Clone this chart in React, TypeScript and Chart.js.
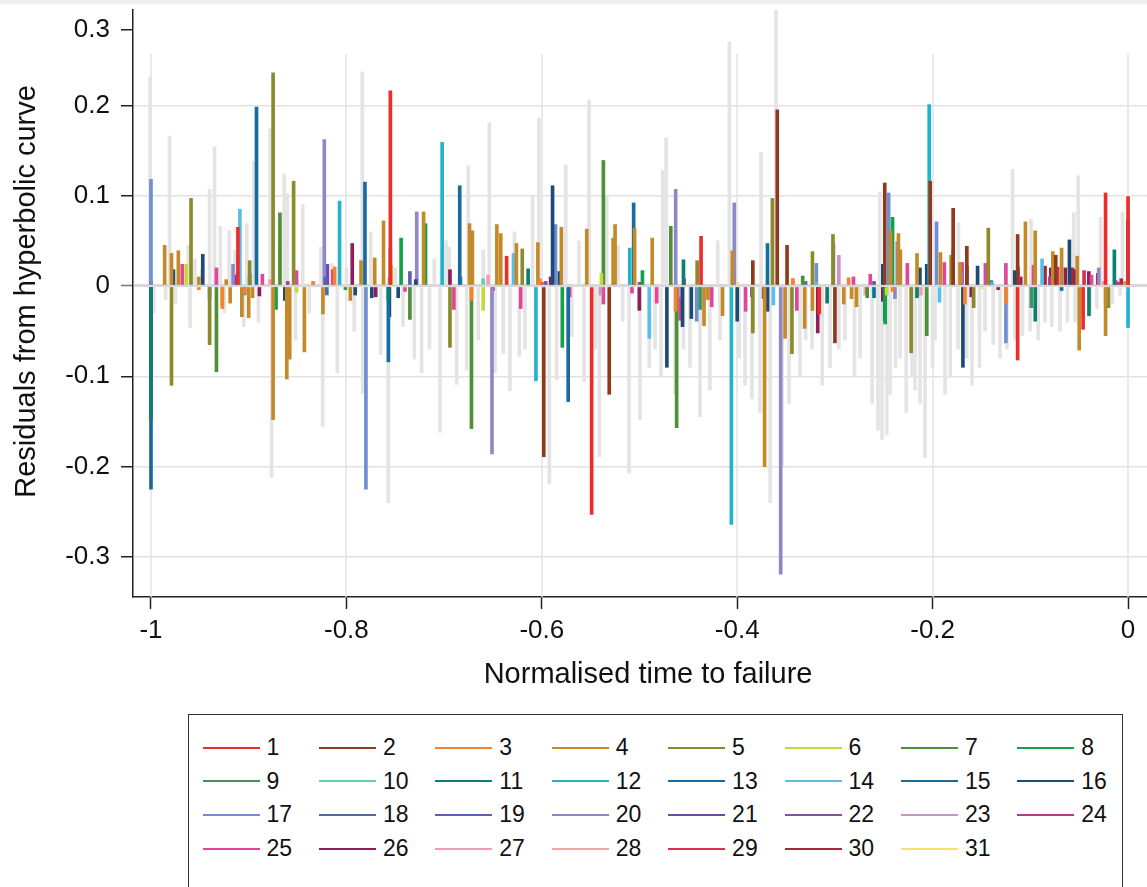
import React, { useEffect, useRef } from 'react';
import { Chart, registerables } from 'chart.js';

Chart.register(...registerables);

type P = [number, number];

const seriesNames = ['1','2','3','4','5','6','7','8','9','10','11','12','13','14','15','16','17','18','19','20','21','22','23','24','25','26','27','28','29','30','31'];
const seriesColors = ['#ee2c2c','#8f3b1b','#f5822e','#c48a2a','#8b8b2b','#c5d93a','#4f8f38','#13a24a','#3d9462','#5ed3b3','#0f7d70','#1fb5cc','#136da3','#5bbdea','#1a6aa0','#1f4a75','#6f8fd0','#4a6fa5','#5a5fb0','#8f88c8','#6b4aa3','#8a4f9a','#cc94c6','#b23a93','#e0469a','#8e1d58','#f39bb0','#f4a6a4','#d93050','#a3283a','#f5e36b'];

const s1: P[] = [[-0.911,0.065],[-0.755,0.216],[-0.636,0.033],[-0.549,-0.253],[-0.437,0.055],[-0.316,-0.031],[-0.113,-0.082],[-0.046,-0.048],[-0.023,0.103],[0.0,0.099]];
const s2: P[] = [[-0.598,-0.189],[-0.531,-0.12],[-0.384,0.028],[-0.359,0.195],[-0.349,0.045],[-0.3,-0.063],[-0.249,0.114],[-0.2025,0.116],[-0.179,0.086],[-0.165,0.044],[-0.113,0.057],[-0.074,0.034]];
const s3: P[] = [[-0.951,-0.004],[-0.927,-0.025],[-0.904,-0.008],[-0.834,0.005],[-0.812,0.021],[-0.672,-0.016],[-0.602,0.008],[-0.463,-0.028],[-0.343,0.008],[-0.286,0.009],[-0.241,-0.006],[-0.167,-0.02],[-0.125,-0.02],[-0.003,0.005]];
const s4: P[] = [[-0.986,0.045],[-0.979,0.036],[-0.972,0.039],[-0.951,0.01],[-0.927,-0.022],[-0.923,0.007],[-0.919,-0.019],[-0.907,-0.034],[-0.9,-0.035],[-0.896,-0.013],[-0.875,-0.148],[-0.861,-0.103],[-0.858,-0.081],[-0.843,-0.073],[-0.824,-0.031],[-0.796,-0.016],[-0.785,0.028],[-0.771,0.031],[-0.762,0.072],[-0.721,0.082],[-0.674,0.069],[-0.671,0.061],[-0.646,0.068],[-0.642,0.058],[-0.626,0.047],[-0.604,0.048],[-0.58,0.065],[-0.554,0.063],[-0.527,0.053],[-0.525,0.068],[-0.505,0.064],[-0.487,0.053],[-0.434,-0.044],[-0.43,-0.015],[-0.415,-0.033],[-0.405,0.039],[-0.372,-0.2],[-0.351,-0.058],[-0.331,-0.047],[-0.323,-0.027],[-0.291,-0.02],[-0.283,-0.014],[-0.278,-0.023],[-0.243,0.061],[-0.235,0.058],[-0.233,0.04],[-0.216,0.036],[-0.192,0.037],[-0.179,0.04],[-0.172,0.026],[-0.105,0.071],[-0.095,0.061],[-0.077,0.038],[-0.068,0.042],[-0.052,0.033],[-0.05,-0.071],[-0.023,-0.055]];
const s5: P[] = [[-0.979,-0.11],[-0.959,0.097],[-0.94,-0.065],[-0.899,0.028],[-0.875,0.236],[-0.854,0.116],[-0.755,0.041],[-0.694,-0.068],[-0.62,0.041],[-0.441,0.028],[-0.384,-0.052],[-0.364,0.097],[-0.344,-0.075],[-0.323,0.038],[-0.302,0.057],[-0.222,-0.074],[-0.181,0.034],[-0.158,-0.024],[-0.143,0.064],[-0.02,-0.024]];
const s6: P[] = [[-0.964,0.024],[-0.851,-0.007],[-0.754,0.023],[-0.66,-0.027],[-0.539,0.014],[-0.343,0.008],[-0.247,-0.01]];
const s7: P[] = [[-0.933,-0.095],[-0.868,0.081],[-0.735,-0.037],[-0.672,-0.158],[-0.537,0.139],[-0.468,0.066],[-0.462,-0.157],[-0.333,0.011],[-0.267,-0.013],[-0.206,-0.055]];
const s8: P[] = [[-0.872,-0.026],[-0.801,-0.004],[-0.744,0.053],[-0.719,0.069],[-0.579,-0.068],[-0.497,0.017],[-0.2485,-0.042],[-0.241,0.076]];
const s9: P[] = [[-0.873,-0.02],[-0.438,-0.026],[-0.099,-0.024]];
const s10: P[] = [[-0.66,0.008],[-0.32,0.004]];
const s11: P[] = [[-1.0,-0.148],[-0.757,-0.017],[-0.614,0.019],[-0.455,0.029],[-0.308,-0.019],[-0.249,-0.039],[-0.216,-0.013],[-0.095,-0.039],[-0.04,-0.033],[-0.014,0.04]];
const s12: P[] = [[-0.904,-0.01],[-0.807,0.094],[-0.702,0.159],[-0.606,-0.105],[-0.51,0.042],[-0.406,-0.264],[-0.2035,0.201],[0.0,-0.046]];
const s13: P[] = [[-0.757,-0.084],[-0.369,0.047],[-0.26,-0.013],[-0.068,-0.005]];
const s14: P[] = [[-0.909,0.085],[-0.629,0.036],[-0.49,-0.058],[-0.363,-0.021],[-0.193,-0.018],[-0.139,0.004],[-0.088,0.03]];
const s15: P[] = [[-1.0,-0.225],[-0.892,0.198],[-0.781,0.115],[-0.684,0.111],[-0.573,-0.128],[-0.506,0.092]];
const s16: P[] = [[-0.977,0.018],[-0.947,0.035],[-0.899,0.013],[-0.863,-0.016],[-0.791,-0.01],[-0.774,-0.013],[-0.756,-0.034],[-0.747,-0.013],[-0.729,0.007],[-0.589,0.111],[-0.582,0.016],[-0.472,-0.09],[-0.456,-0.045],[-0.447,-0.036],[-0.4,-0.039],[-0.369,-0.028],[-0.251,0.024],[-0.213,0.02],[-0.206,0.024],[-0.169,-0.09],[-0.165,0.022],[-0.154,0.022],[-0.116,0.017],[-0.06,0.051],[0.0,0.073]];
const s17: P[] = [[-1.0,0.118],[-0.78,-0.225],[-0.683,0.01],[-0.586,0.068],[-0.4415,-0.039],[-0.319,0.025],[-0.245,0.103],[-0.196,0.071],[-0.125,-0.063]];
const s18: P[] = [[-0.82,-0.01],[-0.33,0.005],[-0.14,0.006]];
const s19: P[] = [[-1.0,-0.096],[-0.94,-0.014],[-0.8215,0.01],[-0.735,0.016],[-0.596,0.005],[-0.385,-0.012]];
const s20: P[] = [[-0.916,0.024],[-0.8226,0.162],[-0.728,0.082],[-0.651,-0.186],[-0.463,0.107],[-0.403,0.092],[-0.3555,-0.319],[-0.3015,0.047],[-0.2386,-0.014],[-0.2362,0.049],[-0.171,0.015],[-0.03,0.02]];
const s21: P[] = [[-0.913,0.012],[-0.8195,0.024],[-0.373,-0.014],[-0.26,0.005]];
const s22: P[] = [[-0.86,0.005],[-0.5,0.004]];
const s23: P[] = [[-0.54,-0.01],[-0.459,-0.012],[-0.296,0.034]];
const s24: P[] = [[-1.0,0.005],[-0.65,-0.005],[-0.08,0.01],[-0.01,0.004]];
const s25: P[] = [[-0.968,0.024],[-0.933,0.02],[-0.911,0.017],[-0.886,0.013],[-0.851,0.017],[-0.814,0.018],[-0.74,-0.006],[-0.69,-0.026],[-0.6216,-0.025],[-0.5715,-0.012],[-0.537,-0.02],[-0.5077,-0.008],[-0.4824,-0.019],[-0.4585,-0.038],[-0.4261,-0.023],[-0.3914,-0.028],[-0.339,-0.027],[-0.281,0.01],[-0.2638,0.013],[-0.2259,0.025],[-0.188,0.026],[-0.1698,0.026],[-0.146,0.025],[-0.125,0.025],[-0.1124,0.021],[-0.0968,0.023],[-0.0745,0.022],[-0.0374,0.012],[-0.0126,0.006]];
const s26: P[] = [[-1.0,-0.02],[-0.889,-0.011],[-0.794,0.047],[-0.77,-0.012],[-0.694,0.018],[-0.591,0.01],[-0.5002,-0.027],[-0.4545,0.008],[-0.4046,0.011],[-0.3176,-0.052],[-0.251,-0.017],[-0.1605,-0.012],[-0.133,-0.004],[-0.1099,0.01],[-0.079,0.02],[-0.0642,0.02],[-0.0538,0.018],[-0.0401,0.016]];
const s27: P[] = [[-1.0,-0.005],[-0.878,0.007],[-0.834,0.005],[-0.756,0.009],[-0.655,0.012],[-0.468,0.004],[-0.212,-0.01],[-0.025,0.005]];
const s28: P[] = [[-0.588,0.006],[-0.269,-0.01],[-0.01,0.005]];
const s29: P[] = [[-0.6,0.004],[-0.072,0.021],[-0.045,0.017]];
const s30: P[] = [[-0.085,0.022],[-0.057,0.02],[-0.031,0.014],[-0.007,0.008]];
const s31: P[] = [[-0.4,0.004],[-0.15,-0.003]];

const seriesData: P[][] = [s1,s2,s3,s4,s5,s6,s7,s8,s9,s10,s11,s12,s13,s14,s15,s16,s17,s18,s19,s20,s21,s22,s23,s24,s25,s26,s27,s28,s29,s30,s31];

const greyResiduals: P[] = [
  [-1.001,0.231],[-0.997,-0.03],[-0.985,-0.015],[-0.981,0.166],[-0.975,-0.02],[-0.962,0.045],[-0.96,-0.046],[-0.955,0.03],[-0.948,0.018],[-0.94,0.107],[-0.935,0.154],[-0.929,0.066],[-0.925,-0.03],[-0.92,0.061],[-0.914,0.04],[-0.905,-0.045],[-0.902,0.069],[-0.8946,0.138],[-0.89,-0.04],[-0.878,0.174],[-0.8765,-0.212],[-0.868,0.05],[-0.8636,0.124],[-0.8605,0.102],[-0.852,-0.06],[-0.8447,0.09],[-0.838,-0.03],[-0.826,0.043],[-0.8243,-0.156],[-0.815,0.025],[-0.8093,-0.096],[-0.8,0.02],[-0.792,-0.05],[-0.7837,0.237],[-0.7834,-0.119],[-0.775,0.06],[-0.7649,-0.076],[-0.7571,-0.24],[-0.75,0.02],[-0.742,-0.045],[-0.7305,-0.081],[-0.723,-0.096],[-0.715,-0.07],[-0.71,0.03],[-0.7042,-0.162],[-0.698,0.05],[-0.6947,0.043],[-0.6871,-0.109],[-0.6769,-0.093],[-0.6752,0.133],[-0.665,-0.06],[-0.66,0.04],[-0.6537,0.181],[-0.6479,-0.096],[-0.6394,-0.075],[-0.6326,-0.116],[-0.628,0.06],[-0.623,-0.078],[-0.6172,-0.07],[-0.6094,0.1],[-0.603,0.186],[-0.598,-0.085],[-0.5923,-0.219],[-0.5848,-0.104],[-0.5755,0.134],[-0.5694,-0.056],[-0.562,0.05],[-0.5568,-0.106],[-0.5517,0.206],[-0.545,-0.07],[-0.5411,-0.189],[-0.5336,0.1],[-0.522,0.045],[-0.5172,-0.039],[-0.5107,-0.207],[-0.4995,-0.148],[-0.49,-0.09],[-0.4841,-0.07],[-0.478,-0.1],[-0.4762,0.128],[-0.4728,0.164],[-0.4637,-0.12],[-0.455,-0.07],[-0.4483,-0.09],[-0.4381,-0.145],[-0.428,-0.115],[-0.42,0.05],[-0.4176,-0.06],[-0.408,0.27],[-0.398,-0.08],[-0.392,-0.11],[-0.385,-0.125],[-0.3767,-0.14],[-0.3756,0.148],[-0.3664,-0.24],[-0.3603,0.31],[-0.3541,-0.2],[-0.347,-0.13],[-0.3357,-0.1],[-0.33,-0.06],[-0.3234,-0.07],[-0.313,-0.11],[-0.305,-0.09],[-0.296,-0.07],[-0.2897,-0.06],[-0.28,-0.1],[-0.2743,-0.08],[-0.262,-0.13],[-0.2559,-0.16],[-0.2541,0.104],[-0.2518,-0.17],[-0.247,-0.165],[-0.2436,-0.12],[-0.238,-0.09],[-0.2334,-0.08],[-0.227,-0.14],[-0.2211,-0.1],[-0.218,-0.115],[-0.2129,-0.13],[-0.2078,-0.19],[-0.2,-0.09],[-0.1975,-0.06],[-0.1873,-0.12],[-0.182,-0.1],[-0.174,-0.07],[-0.1736,0.07],[-0.165,-0.08],[-0.1597,-0.11],[-0.152,-0.09],[-0.1464,-0.05],[-0.138,-0.065],[-0.131,-0.08],[-0.124,-0.07],[-0.1182,0.129],[-0.1157,-0.06],[-0.108,-0.055],[-0.1003,-0.05],[-0.0993,0.074],[-0.092,-0.06],[-0.085,-0.04],[-0.078,-0.045],[-0.0696,-0.05],[-0.062,-0.04],[-0.0556,0.081],[-0.0542,-0.04],[-0.0511,0.122],[-0.047,-0.035],[-0.0389,-0.03],[-0.032,-0.025],[-0.028,0.076],[-0.0235,-0.02],[-0.016,-0.02],[-0.0082,-0.01],[-0.0057,0.082]
];

const xTickValues = [-1, -0.8, -0.6, -0.4, -0.2, 0];
const xTickLabels = ['-1', '-0.8', '-0.6', '-0.4', '-0.2', '0'];
const yTickValues = [-0.3, -0.2, -0.1, 0, 0.1, 0.2, 0.284];
const yTickLabels = ['-0.3', '-0.2', '-0.1', '0', '0.1', '0.2', '0.3'];

const FONT = '"Liberation Sans", Arial, Helvetica, sans-serif';

const bandPlugin = {
  id: 'topBand',
  beforeDraw(chart: any) {
    const { ctx } = chart;
    ctx.save();
    ctx.fillStyle = '#f0f0f0';
    ctx.fillRect(0, 0, chart.width, 4);
    ctx.restore();
  },
};

const xGridPlugin = {
  id: 'xGridPartial',
  beforeDatasetsDraw(chart: any) {
    const { ctx, chartArea, scales } = chart;
    const top = scales.y.getPixelForValue(0.257);
    ctx.save();
    ctx.strokeStyle = '#e2e2e2';
    ctx.lineWidth = 1.5;
    xTickValues.forEach((v) => {
      const px = Math.round(scales.x.getPixelForValue(v));
      ctx.beginPath();
      ctx.moveTo(px, top);
      ctx.lineTo(px, chartArea.bottom);
      ctx.stroke();
    });
    ctx.restore();
  },
};

export default function App() {
  const ref = useRef<HTMLCanvasElement | null>(null);

  useEffect(() => {
    if (!ref.current) return;
    const datasets: any[] = seriesData.map((d, i) => ({
      label: seriesNames[i],
      data: d.map(([x, y]) => ({ x, y })),
      backgroundColor: seriesColors[i],
      borderWidth: 0,
      barThickness: 3,
      grouped: false,
      order: i,
    }));
    datasets.push({
      label: 'other',
      data: greyResiduals.map(([x, y]) => ({ x, y })),
      backgroundColor: '#e4e4e4',
      borderWidth: 0,
      barThickness: 3,
      grouped: false,
      order: 100,
    });

    const chart = new Chart(ref.current, {
      type: 'bar',
      data: { datasets },
      plugins: [bandPlugin, xGridPlugin],
      options: {
        animation: false,
        responsive: false,
        devicePixelRatio: 1,
        layout: { padding: { left: 0, right: 0, top: 10, bottom: 0 } },
        plugins: { legend: { display: false }, tooltip: { enabled: false } },
        scales: {
          x: {
            type: 'linear',
            min: -1.0184,
            max: 0.0194,
            offset: false,
            afterBuildTicks: (s: any) => { s.ticks = xTickValues.map((v) => ({ value: v })); },
            afterFit: (s: any) => { s.height = 103; s.paddingLeft = 0; s.paddingRight = 0; },
            ticks: {
              autoSkip: false,
              maxRotation: 0,
              padding: 6,
              color: '#111',
              font: { family: FONT, size: 26 },
              callback: (_v: any, i: number) => xTickLabels[i],
            },
            grid: { display: true, offset: false, drawOnChartArea: false, drawTicks: true, tickLength: 12, tickColor: '#222', tickWidth: 1.5 },
            border: { display: true, color: '#222', width: 1.5 },
            title: { display: true, text: '  Normalised time to failure', color: '#111', font: { family: FONT, size: 29 }, padding: { top: 0, bottom: 8 } },
          },
          y: {
            type: 'linear',
            min: -0.3444,
            max: 0.3056,
            afterBuildTicks: (s: any) => { s.ticks = yTickValues.map((v) => ({ value: v })); },
            afterFit: (s: any) => { s.width = 133; s.paddingTop = 0; s.paddingBottom = 0; },
            ticks: {
              autoSkip: false,
              padding: 11,
              color: '#111',
              font: { family: FONT, size: 26 },
              callback: (_v: any, i: number) => yTickLabels[i],
            },
            grid: {
              color: (c: any) => (c.tick && c.tick.value > 0.25 ? 'rgba(0,0,0,0)' : c.tick && c.tick.value === 0 ? '#d8d8d8' : '#e2e2e2'),
              lineWidth: (c: any) => (c.tick && c.tick.value === 0 ? 3 : 1.5),
              tickColor: (c: any) => (c.tick && c.tick.value === 0 ? '#777' : '#222'),
              tickLength: 12,
              tickWidth: 1.5,
            },
            border: { display: true, color: '#222', width: 1.5 },
            title: { display: true, text: '   Residuals from hyperbolic curve', color: '#111', font: { family: FONT, size: 29 }, padding: { top: 10, bottom: 0 } },
          },
        },
      } as any,
    });
    return () => chart.destroy();
  }, []);

  return (
    <div style={{ position: 'absolute', left: 0, top: 0, width: 1147, height: 887, overflow: 'hidden', background: '#fff' }}>
      <canvas ref={ref} width={1147} height={700} style={{ display: 'block', width: 1147, height: 700 }} />
      <div
        style={{
          position: 'absolute', left: 188, top: 714, width: 935, height: 200,
          border: '1.5px solid #333', boxSizing: 'border-box', fontFamily: FONT, fontSize: 23, color: '#111',
        }}
      >
        {seriesNames.map((n, i) => {
          const col = i % 8;
          const row = Math.floor(i / 8);
          return (
            <div
              key={n}
              style={{ position: 'absolute', left: 13.5 + col * 116.4, top: 32.5 + row * 33.7 - 15, height: 30, display: 'flex', alignItems: 'center', whiteSpace: 'nowrap' }}
            >
              <span style={{ display: 'inline-block', width: 57, height: 2, background: seriesColors[i] }} />
              <span style={{ marginLeft: 7 }}>{n}</span>
            </div>
          );
        })}
      </div>
    </div>
  );
}
